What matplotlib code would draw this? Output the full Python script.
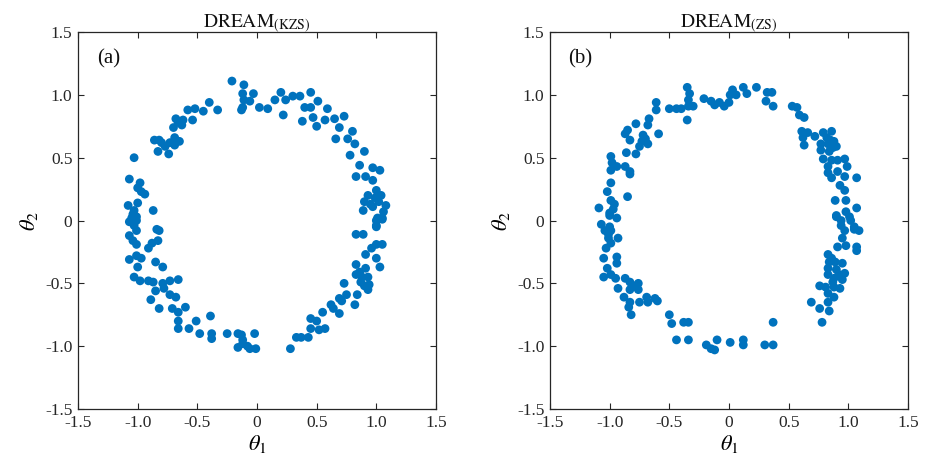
import numpy as np
import matplotlib
matplotlib.use("Agg")
import matplotlib.pyplot as plt

# ── Data: posterior samples (theta1, theta2) ─────────────────────────────────
kzs_pts = [
    (-0.21, 1.11), (-0.11, 1.08), (-0.12, 1.01), (-0.11, 0.96), (-0.13, 0.88),
    (-0.33, 0.88), (-0.40, 0.94), (-0.45, 0.87), (-0.52, 0.89), (-0.58, 0.88),
    (-0.54, 0.80), (-0.68, 0.81), (-0.70, 0.74), (-0.62, 0.80), (-0.63, 0.76),
    (-0.66, 0.78), (-0.86, 0.64), (-0.82, 0.64), (-0.83, 0.55), (-0.74, 0.53),
    (-0.69, 0.60), (-0.69, 0.66), (-0.77, 0.59), (-0.73, 0.62), (-1.03, 0.50),
    (-1.07, 0.33), (-0.98, 0.30), (-0.97, 0.23), (-0.94, 0.21), (-1.00, 0.26),
    (-1.08, 0.12), (-1.00, 0.14), (-1.03, 0.08), (-0.87, 0.08), (-1.05, 0.02),
    (-1.01, 0.00), (-0.84, -0.07), (-1.07, -0.01), (-1.01, 0.03), (-1.01, -0.08),
    (-0.82, -0.08), (-1.07, -0.12), (-1.04, -0.16), (-1.01, -0.19), (-0.83, -0.16),
    (-0.88, -0.18), (-0.91, -0.22), (-1.07, -0.31), (-1.01, -0.28), (-0.97, -0.30),
    (-1.00, -0.37), (-0.85, -0.33), (-0.79, -0.37), (-1.03, -0.45), (-0.98, -0.48),
    (-0.91, -0.48), (-0.87, -0.49), (-0.79, -0.50), (-0.73, -0.48), (-0.66, -0.47),
    (-0.85, -0.56), (-0.89, -0.63), (-0.82, -0.70), (-0.78, -0.54), (-0.73, -0.59),
    (-0.68, -0.61), (-0.71, -0.70), (-0.66, -0.73), (-0.60, -0.69), (-0.66, -0.80),
    (-0.66, -0.86), (-0.51, -0.80), (-0.57, -0.86), (-0.48, -0.90), (-0.39, -0.76),
    (-0.38, -0.90), (-0.38, -0.94), (-0.25, -0.90), (-0.16, -0.90), (-0.16, -1.01),
    (-0.12, -0.95), (-0.08, -1.00), (-0.13, -0.91), (-0.12, -0.98), (-0.06, -1.02),
    (-0.02, -0.90), (-0.01, -1.02), (0.28, -1.02), (0.33, -0.93), (0.37, -0.93),
    (0.43, -0.93), (0.45, -0.78), (0.50, -0.80), (0.45, -0.86), (0.52, -0.87),
    (0.57, -0.86), (0.55, -0.73), (0.62, -0.67), (0.69, -0.74), (0.69, -0.62),
    (0.73, -0.50), (0.75, -0.59), (0.82, -0.67), (0.84, -0.59), (0.83, -0.43),
    (0.87, -0.49), (0.93, -0.45), (0.94, -0.51), (0.93, -0.55), (0.83, -0.35),
    (0.91, -0.38), (1.03, -0.37), (0.91, -0.27), (1.00, -0.30), (0.96, -0.22),
    (1.05, -0.19), (1.00, -0.19), (0.83, -0.11), (0.89, -0.11), (1.00, -0.04),
    (1.01, 0.02), (1.05, 0.02), (-0.03, 1.01), (-0.06, 0.95), (-0.12, 0.90),
    (0.02, 0.90), (0.09, 0.89), (0.15, 0.96), (0.20, 1.02), (0.24, 0.96),
    (0.30, 0.99), (0.36, 0.99), (0.45, 1.02), (0.51, 0.95), (0.22, 0.84),
    (0.38, 0.79), (0.40, 0.90), (0.45, 0.90), (0.47, 0.82), (0.50, 0.75),
    (0.59, 0.89), (0.57, 0.80), (0.65, 0.81), (0.73, 0.83), (0.69, 0.74),
    (0.66, 0.65), (0.76, 0.65), (0.80, 0.71), (0.82, 0.61), (0.78, 0.52),
    (0.90, 0.55), (0.86, 0.44), (0.97, 0.42), (1.03, 0.40), (0.83, 0.35),
    (0.91, 0.35), (0.97, 0.32), (1.00, 0.24), (0.93, 0.20), (1.04, 0.20),
    (1.08, 0.12), (0.90, 0.15), (0.89, 0.08), (0.97, 0.11), (1.06, 0.07),
    (1.00, 0.00), (1.05, 0.01), (1.00, -0.05), (0.99, 0.18), (1.02, 0.15),
    (0.95, 0.13), (0.88, -0.45), (0.90, -0.52), (0.86, -0.41), (-0.65, 0.63),
    (-0.80, 0.62), (-1.03, -0.04), (-1.04, 0.05), (0.71, -0.64), (0.64, -0.70),
]

zs_pts = [
    (-0.35, 1.06), (-0.33, 1.01), (-0.34, 0.96), (-0.34, 0.91), (-0.30, 0.91),
    (-0.35, 0.80), (-0.50, 0.89), (-0.44, 0.89), (-0.40, 0.89), (-0.21, 0.97),
    (-0.15, 0.95), (-0.61, 0.94), (-0.61, 0.88), (-0.67, 0.81), (-0.68, 0.76),
    (-0.59, 0.69), (-0.78, 0.77), (-0.85, 0.72), (-0.87, 0.69), (-0.83, 0.64),
    (-0.72, 0.68), (-0.75, 0.59), (-0.68, 0.61), (-0.78, 0.53), (-0.70, 0.65),
    (-0.86, 0.54), (-0.99, 0.51), (-0.98, 0.46), (-0.99, 0.40), (-0.94, 0.43),
    (-0.87, 0.43), (-0.83, 0.39), (-0.83, 0.37), (-0.99, 0.30), (-1.02, 0.23),
    (-0.85, 0.19), (-0.99, 0.16), (-0.96, 0.13), (-1.09, 0.10), (-1.00, 0.06),
    (-0.94, 0.02), (-1.07, -0.03), (-1.00, -0.05), (-1.00, 0.04), (-1.04, -0.08),
    (-0.99, -0.08), (-1.01, -0.14), (-0.93, -0.14), (-1.03, -0.22), (-0.99, -0.18),
    (-1.05, -0.30), (-0.94, -0.29), (-0.94, -0.34), (-1.02, -0.38), (-1.05, -0.45),
    (-0.99, -0.43), (-0.95, -0.46), (-0.87, -0.46), (-0.83, -0.49), (-0.76, -0.50),
    (-0.93, -0.54), (-0.83, -0.55), (-0.76, -0.55), (-0.88, -0.61), (-0.83, -0.65),
    (-0.75, -0.65), (-0.69, -0.61), (-0.68, -0.65), (-0.62, -0.62), (-0.60, -0.64),
    (-0.84, -0.69), (-0.82, -0.75), (-0.50, -0.75), (-0.48, -0.82), (-0.38, -0.81),
    (-0.34, -0.81), (-0.44, -0.95), (-0.34, -0.95), (-0.19, -0.99), (-0.15, -1.02),
    (-0.12, -1.03), (-0.10, -0.95), (0.01, -0.97), (0.12, -0.95), (0.12, -0.99),
    (0.30, -0.99), (0.37, -0.99), (0.37, -0.81), (0.69, -0.65), (0.76, -0.70),
    (0.78, -0.81), (0.84, -0.72), (0.83, -0.65), (0.88, -0.61), (0.76, -0.52),
    (0.81, -0.53), (0.83, -0.58), (0.88, -0.53), (0.93, -0.54), (0.95, -0.47),
    (0.97, -0.42), (0.83, -0.43), (0.88, -0.46), (0.83, -0.38), (0.90, -0.39),
    (0.83, -0.27), (0.84, -0.33), (0.89, -0.33), (0.95, -0.34), (0.91, -0.21),
    (0.98, -0.20), (0.95, -0.14), (1.07, -0.21), (1.07, -0.24), (0.97, -0.08),
    (1.05, -0.07), (1.09, -0.08), (0.94, -0.04), (0.90, 0.03), (1.01, 0.03),
    (-0.12, 0.92), (-0.08, 0.94), (-0.04, 0.91), (0.00, 0.94), (0.01, 1.00),
    (0.03, 1.04), (0.06, 1.00), (0.12, 1.06), (0.15, 1.01), (0.23, 1.06),
    (0.32, 1.02), (0.36, 1.02), (0.31, 0.95), (0.37, 0.91), (0.53, 0.91),
    (0.57, 0.90), (0.59, 0.84), (0.63, 0.82), (0.61, 0.71), (0.62, 0.66),
    (0.63, 0.60), (0.66, 0.70), (0.72, 0.67), (0.79, 0.70), (0.86, 0.71),
    (0.77, 0.61), (0.83, 0.61), (0.88, 0.63), (0.90, 0.59), (0.77, 0.56),
    (0.84, 0.55), (0.79, 0.49), (0.86, 0.48), (0.91, 0.48), (0.97, 0.49),
    (0.99, 0.43), (0.83, 0.43), (0.83, 0.38), (0.91, 0.39), (0.86, 0.34),
    (0.97, 0.35), (1.07, 0.34), (0.93, 0.28), (0.97, 0.24), (0.89, 0.16),
    (0.98, 0.16), (0.90, 0.04), (0.94, 0.00), (0.98, 0.07), (1.07, 0.10),
    (1.02, 0.00), (1.05, -0.05), (0.86, -0.30), (0.87, -0.49), (0.92, -0.43),
    (0.82, 0.66), (0.85, 0.64), (0.87, 0.58), (-1.01, -0.11), (-0.97, 0.09),
    (-0.80, -0.52), (-0.73, 0.63),
]

tick_vals = [-1.5, -1.0, -0.5, 0.0, 0.5, 1.0, 1.5]
tick_labels = ["-1.5", "-1.0", "-0.5", "0", "0.5", "1.0", "1.5"]
titles = [r"$\mathrm{DREAM}_{\mathrm{(KZS)}}$", r"$\mathrm{DREAM}_{\mathrm{(ZS)}}$"]
panel_tags = ["(a)", "(b)"]

# ── Style ────────────────────────────────────────────────────────────────────
plt.rcParams.update({
    "font.family": ["Liberation Serif", "DejaVu Serif"],
    "mathtext.fontset": "stix",
    "axes.unicode_minus": False,
    "axes.edgecolor": "#262626",
    "axes.linewidth": 0.9,
})
blue = "#0072BD"

fig = plt.figure(figsize=(9.3, 4.7), dpi=100)
fig.patch.set_facecolor("white")
axes = [fig.add_axes([0.0839, 0.1298, 0.3849, 0.802]),
        fig.add_axes([0.5914, 0.1298, 0.3849, 0.802])]

for ax, pts, title, tag in zip(axes, [kzs_pts, zs_pts], titles, panel_tags):
    pts = np.array(pts)
    ax.scatter(pts[:, 0], pts[:, 1], s=40, color=blue, edgecolors="none",
               zorder=3)
    ax.set_xlim(-1.5, 1.5)
    ax.set_ylim(-1.5, 1.5)
    ax.set_xticks(tick_vals)
    ax.set_xticklabels(tick_labels)
    ax.set_yticks(tick_vals)
    ax.set_yticklabels(tick_labels)
    ax.tick_params(direction="in", top=True, right=True, length=4.5,
                   width=0.8, labelsize=12.5, colors="#262626", pad=4)
    ax.set_title(title, fontsize=14, pad=3, color="#111111")
    ax.set_xlabel(r"$\theta_1$", fontsize=16, labelpad=2)
    ax.set_ylabel(r"$\theta_2$", fontsize=16, labelpad=4)
    ax.text(0.052, 0.93, tag, transform=ax.transAxes, fontsize=15,
            ha="left", va="center", color="#111111")

fig.savefig("out.png", dpi=100, facecolor="white")
